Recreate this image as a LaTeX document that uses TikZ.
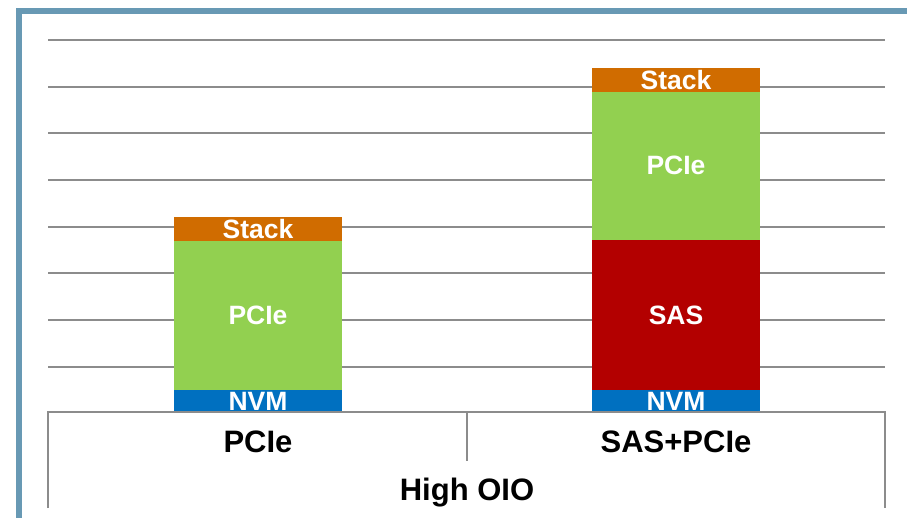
\documentclass[tikz,border=0pt]{standalone}
\usepackage{fontspec}
\setmainfont{Liberation Sans}
\usepackage{tikz}

\definecolor{framec}{RGB}{104,153,180}
\definecolor{gridc}{RGB}{140,140,140}
\definecolor{stackc}{RGB}{208,108,0}
\definecolor{pciec}{RGB}{146,208,80}
\definecolor{sasc}{RGB}{179,0,0}
\definecolor{nvmc}{RGB}{0,112,192}

\begin{document}
\begin{tikzpicture}[x=1pt,y=-1pt,
    gridline/.style={gridc, line width=1.5},
    seglabel/.style={text=white, inner sep=0, text height=19pt, text depth=0pt,
      font=\fontsize{26.5}{30}\selectfont\bfseries},
    catlabel/.style={text=black, inner sep=0, text height=22.2pt, text depth=0pt,
      font=\fontsize{31}{36}\selectfont\bfseries}]
  \useasboundingbox (0,0) rectangle (907,518);

  % frame
  \draw[framec, line width=6] (19,518) -- (19,11) -- (907,11);

  % grid
  \foreach \y in {40,87,133,180,227,273,320,367}
    \draw[gridline] (48,\y) -- (885,\y);

  % PCIe bar
  \fill[nvmc] (174,390) rectangle (342,412);
  \fill[pciec] (174,241) rectangle (342,390);
  \fill[stackc] (174,217) rectangle (342,241);
  \node[seglabel] (lnvm) at (258,401) {NVM};
  \node[seglabel] (lpcie) at (258,315.5) {PCIe};
  \node[seglabel] (lstack) at (258,229) {Stack};

  % SAS+PCIe bar
  \fill[nvmc] (592,390) rectangle (760,412);
  \fill[sasc] (592,240) rectangle (760,390);
  \fill[pciec] (592,92) rectangle (760,240);
  \fill[stackc] (592,68) rectangle (760,92);
  \node[seglabel] (rnvm) at (676,401) {NVM};
  \node[seglabel] (rsas) at (676,315.5) {SAS};
  \node[seglabel] (rpcie) at (676,165.5) {PCIe};
  \node[seglabel] (rstack) at (676,80) {Stack};

  % category axis
  \draw[gridline] (48,508) -- (48,412) -- (885,412) -- (885,508);
  \draw[gridline] (467,412) -- (467,461);
  \node[catlabel] (catl) at (258,441) {PCIe};
  \node[catlabel] (catr) at (676,441) {SAS+PCIe};
  \node[catlabel] (grp) at (467,489) {High OIO};
\end{tikzpicture}
\end{document}
